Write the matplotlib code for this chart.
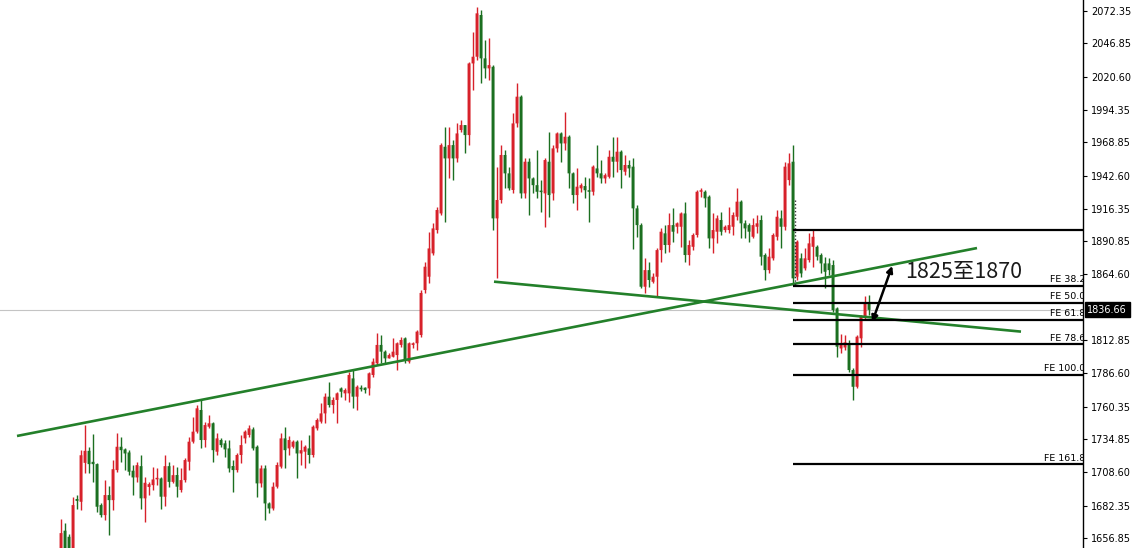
import matplotlib
matplotlib.use("Agg")
import matplotlib.pyplot as plt
import numpy as np

# ---------------- data ----------------
opens = [1642, 1662.5, 1657.7, 1646, 1687.5, 1685.3, 1716, 1725.5, 1716.8, 1715,
         1682.7, 1674.8, 1690.6, 1686.6, 1710.3, 1728.7, 1726.6, 1724.2, 1709.8, 1704.5,
         1713.4, 1688, 1697, 1698.4, 1703, 1703.7, 1689.3, 1713.4, 1701, 1706.4,
         1694.6, 1702.4, 1716.9, 1732.7, 1740.6, 1757.7, 1734, 1744.5, 1747.2, 1724.8,
         1734, 1731.4, 1727.4, 1713.5, 1710.3, 1722.2, 1735.3, 1738, 1742.4, 1728.7,
         1699.8, 1711.6, 1684, 1680, 1697.2, 1713, 1735.3, 1727.4, 1728.7, 1732.7,
         1723.4, 1724.8, 1727.4, 1722.2, 1743.2, 1748.5, 1755, 1768.2, 1761.6, 1765.6,
         1774.7, 1770.8, 1770.8, 1782.6, 1768.2, 1775.3, 1775.3, 1774.7, 1785.3, 1794.5,
         1809, 1803.7, 1798.4, 1799.7, 1801, 1809, 1814.2, 1795.8, 1809, 1810.3,
         1816.8, 1852.3, 1862.8, 1881.2, 1899.6, 1912.7, 1965.3, 1956.1, 1966.6, 1956.1,
         1978.5, 1982.4, 1974.5, 2031, 2036.3, 2069.2, 2035, 2027.1, 2028.4, 1908.8,
         1923.3, 1958.8, 1944.3, 1931.2, 1983.7, 2004.8, 1928.5, 1953.5, 1940.3, 1935,
         1930.5, 1928.5, 1953.5, 1928.5, 1964, 1975.8, 1967.9, 1973.2, 1944.3, 1927.2,
         1932.5, 1934.3, 1931, 1929.8, 1948.2, 1944.3, 1940.3, 1941.6, 1957.4, 1953.5,
         1961.4, 1945.6, 1950.9, 1949.6, 1916.7, 1903.5, 1854.9, 1868, 1858.8, 1862.8,
         1883.8, 1897, 1887.8, 1903.5, 1902.2, 1902.2, 1912.7, 1879.9, 1886.4, 1895.7,
         1929.8, 1929.8, 1925.9, 1893, 1898.3, 1907.5, 1899.6, 1899.6, 1902.2, 1910.1,
         1922, 1904.9, 1903.5, 1894.3, 1902.2, 1907.5, 1879.9, 1868, 1877.3, 1894.3,
         1908.8, 1902.2, 1939, 1953.5, 1862.8, 1877.3, 1869.4, 1875.9, 1886.4, 1886.4,
         1879.9, 1873.3, 1873.3, 1872, 1837.8, 1806.2, 1807, 1810.2, 1789.2, 1776,
         1814.2, 1831.3, 1841.7]
highs = [1672, 1668.5, 1660, 1689, 1690.5, 1726, 1745.8, 1728.7, 1739, 1716,
         1684, 1702.4, 1697.7, 1718.2, 1739.2, 1736.6, 1727.4, 1726, 1714.2, 1716.8,
         1722, 1705, 1701, 1713, 1711.6, 1705, 1722, 1716.8, 1714.2, 1713,
         1711.6, 1719.6, 1736.6, 1752.4, 1761.6, 1765.6, 1748.5, 1753.7, 1748.5, 1739.3,
         1735.3, 1734, 1734, 1718.2, 1723.5, 1738, 1741.9, 1745.8, 1744.5, 1730,
         1714.3, 1714.3, 1685.3, 1701.1, 1716.9, 1739.3, 1744.5, 1737, 1734, 1734,
         1734, 1730, 1737.9, 1745.8, 1751.1, 1763, 1770.8, 1780, 1768.2, 1772.1,
         1776, 1774.7, 1787.9, 1789.2, 1777.4, 1777.4, 1776, 1787.9, 1798.4, 1818.2,
         1816.8, 1805, 1802.4, 1814.2, 1811.6, 1815.5, 1815.5, 1811.6, 1811.6, 1820.8,
         1852, 1874.6, 1898.3, 1904.9, 1918, 1967.9, 1981.1, 1981.1, 1970.6, 1983.7,
         1986.4, 1982.4, 2032.4, 2056, 2075.7, 2073.1, 2049.5, 2050.8, 2029.7, 1949.6,
         1966.6, 1962.7, 1949.6, 1991.6, 2015.3, 2006.1, 1956.1, 1956.1, 1941.6, 1962.7,
         1939, 1956.1, 1977.1, 1966.6, 1977.1, 1977.1, 1992.9, 1974.5, 1945.6, 1948.2,
         1936.4, 1941.6, 1940.3, 1950.9, 1966.6, 1954.8, 1944.3, 1962.7, 1973.2, 1973.2,
         1962.7, 1958.8, 1954.8, 1956.1, 1919.3, 1904.9, 1877.3, 1874.6, 1865.4, 1885.1,
         1900.9, 1903.5, 1912.7, 1916.7, 1906.2, 1914, 1922, 1891.7, 1897, 1931.2,
         1932.5, 1931.2, 1927.2, 1912.7, 1911.4, 1914, 1903.5, 1918, 1914, 1932.5,
         1923.3, 1907.5, 1904.9, 1908.8, 1911.4, 1911.4, 1881.2, 1885.1, 1897, 1915.4,
         1915.4, 1953.5, 1960, 1966.7, 1891.7, 1881.2, 1885.1, 1897, 1899.6, 1887.8,
         1881.2, 1878.6, 1877.3, 1875.9, 1839.1, 1818, 1816.8, 1812.8, 1790.5, 1816.8,
         1832.6, 1847.5, 1848.3]
lows = [1636, 1640, 1640, 1643, 1680, 1678.7, 1707.7, 1707.7, 1701, 1677.4,
        1673.5, 1670.8, 1659, 1678.7, 1709, 1716.8, 1710.3, 1706.4, 1690.6, 1701,
        1680, 1669.5, 1690.6, 1694.5, 1698.4, 1680, 1681.9, 1697, 1699.8, 1689.3,
        1693.3, 1701.1, 1710.3, 1731.4, 1739.3, 1727.4, 1728.7, 1743.2, 1716.9, 1722.2,
        1728.7, 1720.9, 1709, 1693.3, 1709, 1715.6, 1731.4, 1736.6, 1726, 1689.3,
        1697.2, 1670.9, 1676.1, 1678.8, 1695.9, 1711.6, 1711.6, 1722, 1727.4, 1703.7,
        1714.3, 1711.6, 1715.6, 1720.9, 1742, 1747.2, 1747.2, 1760.3, 1755, 1747.2,
        1768.2, 1765.6, 1764.3, 1759, 1757.7, 1773, 1770.8, 1769.5, 1784, 1793.2,
        1794.5, 1794.5, 1798.4, 1799.7, 1789.2, 1807.6, 1794.5, 1794.5, 1806.3, 1805,
        1815.5, 1849.6, 1857.5, 1879.9, 1897, 1911.4, 1906.2, 1940.3, 1939, 1953.5,
        1977.1, 1960, 1966.6, 2010, 2033.7, 2015.3, 2019.2, 2017.9, 1899.6, 1861.5,
        1920.6, 1932.5, 1931, 1928.6, 1981, 1924.6, 1924.5, 1911.4, 1928.5, 1924.5,
        1914, 1902.2, 1910, 1923.3, 1961.4, 1953.5, 1962.7, 1932.5, 1920.6, 1915.3,
        1929.8, 1924.5, 1906.2, 1927.2, 1941.6, 1936.4, 1936.4, 1940.3, 1941.6, 1945.6,
        1932.5, 1942.9, 1941.6, 1885, 1894.3, 1853.6, 1849.6, 1854.9, 1857.5, 1847,
        1874.6, 1881.2, 1882.5, 1890.4, 1897, 1886.4, 1874.6, 1872, 1883.8, 1894.3,
        1925.9, 1918, 1885.1, 1881.2, 1889.1, 1895.7, 1898.3, 1897, 1895.7, 1907.5,
        1893, 1893, 1890.4, 1893, 1897, 1872, 1860.2, 1865.4, 1875.9, 1891.7,
        1885.1, 1899.6, 1935, 1856.2, 1860.2, 1862.8, 1868, 1874.6, 1870.7, 1876,
        1865.4, 1853.6, 1864.1, 1835.2, 1799.7, 1802.3, 1804.9, 1787.9, 1765.5, 1774.7,
        1807.6, 1828.6, 1832.6]
closes = [1660.6, 1645, 1646, 1682.7, 1686, 1722, 1725.5, 1715, 1715, 1681.4,
          1674.8, 1690.6, 1686.6, 1711, 1728.7, 1726, 1723.4, 1709, 1704.5, 1714.2,
          1688, 1700.3, 1699.2, 1702.9, 1703.5, 1689.3, 1713.4, 1701, 1706.3, 1697.2,
          1702.4, 1718.2, 1732.7, 1740.6, 1759, 1734, 1745.8, 1747.2, 1726, 1735.3,
          1730, 1726.6, 1711.6, 1710.3, 1722.2, 1730, 1740.6, 1743.2, 1727.4, 1699.8,
          1711.6, 1684, 1680, 1697.2, 1714.3, 1735.3, 1726, 1734, 1732.7, 1723.4,
          1726, 1728.7, 1722.2, 1744.5, 1749.8, 1755, 1768.2, 1761.6, 1765.6, 1770.8,
          1772.1, 1773.4, 1785.3, 1768.2, 1776, 1774, 1773.4, 1786.6, 1795.8, 1809,
          1803.7, 1798.4, 1801, 1803.7, 1810.3, 1812.9, 1797.1, 1810.3, 1810.3, 1819.5,
          1850, 1870.7, 1885.1, 1900.9, 1915.4, 1966.6, 1956.1, 1966.6, 1956.1, 1975.8,
          1982.4, 1974.5, 2031, 2036.3, 2070.5, 2035, 2027.1, 2029.7, 1908.8, 1923.3,
          1958.8, 1944.3, 1932.5, 1983.7, 2004.8, 1928.5, 1953.5, 1940.3, 1935, 1929.8,
          1929.5, 1954.8, 1927.2, 1964, 1975.8, 1967.9, 1973.2, 1944.3, 1927.2, 1933.8,
          1935, 1931, 1929.8, 1949.6, 1944.3, 1940.3, 1942.9, 1957.4, 1953.5, 1961.4,
          1946.9, 1950.9, 1948.2, 1916.7, 1903.5, 1854.9, 1868, 1860.2, 1862.8, 1883.8,
          1898.3, 1887.8, 1903.5, 1898.3, 1904.9, 1912.7, 1879.9, 1887.8, 1895.7, 1929.8,
          1930.8, 1924.6, 1893, 1899.6, 1908.8, 1898.3, 1902.2, 1903.5, 1911.4, 1922,
          1904.9, 1900.9, 1898.3, 1903.5, 1904.9, 1878.6, 1868, 1878.6, 1895.7, 1910.1,
          1902.2, 1949.6, 1952.2, 1861.5, 1890.4, 1865.4, 1877.3, 1889.1, 1894.3, 1878.6,
          1873.3, 1866.7, 1868, 1836.5, 1807.6, 1810.2, 1811, 1789.2, 1776, 1815.5,
          1831.3, 1841.8, 1836.66]

# right price axis
tick_values = [2072.35, 2046.85, 2020.60, 1994.35, 1968.85, 1942.60, 1916.35, 1890.85,
               1864.60, 1812.85, 1786.60, 1760.35, 1734.85, 1708.60, 1682.35, 1656.85]
tick_labels = ["2072.35", "2046.85", "2020.60", "1994.35", "1968.85", "1942.60", "1916.35",
               "1890.85", "1864.60", "1812.85", "1786.60", "1760.35", "1734.85", "1708.60",
               "1682.35", "1656.85"]
current_price = 1836.66

# Fibonacci expansion levels
fe_prices = [1899.6, 1855.5, 1842.1, 1828.7, 1809.7, 1785.3, 1715.0]
fe_labels = ["", "FE 38.2", "FE 50.0", "FE 61.8", "FE 78.6", "FE 100.0", "FE 161.8"]
fe_start_bar = 183

# trend lines (bar index, price)
rising_line = ([-11, 229], [1737.2, 1885.4])
falling_line = ([108.25, 240], [1858.9, 1819.5])
fe_anchor = ([183.6, 183.6], [1923.0, 1856.0])

# annotation arrow
arrow_from = (202.8, 1827.0)
arrow_to = (207.8, 1871.3)
note_text = "1825至1870"
note_pos = (211, 1866.5)

# ---------------- drawing ----------------
RED = "#d7212a"
GREEN = "#1b6f20"
LINE_GREEN = "#23802a"

fig = plt.figure(figsize=(11.32, 5.48), dpi=100)
ax = fig.add_axes([0, 0, 1083 / 1132, 1])

o = np.array(opens); h = np.array(highs); l = np.array(lows); c = np.array(closes)
idx = np.arange(len(o))
up = c >= o
cols = np.where(up, RED, GREEN)

ax.vlines(idx, l, h, colors=cols, linewidth=1.0, zorder=2)
bottoms = np.minimum(o, c)
heights = np.maximum(np.abs(c - o), 1.2)
bars = ax.bar(idx, heights, bottom=bottoms, width=0.72, color=cols, edgecolor="none",
              linewidth=0, zorder=3)
for b in bars:
    b.set_snap(False)

# current price line
ax.axhline(current_price, color="#c4c4c4", linewidth=0.8, zorder=1)

# trend lines
ax.plot(*rising_line, color=LINE_GREEN, linewidth=1.9, zorder=4, solid_capstyle="butt")
ax.plot(*falling_line, color=LINE_GREEN, linewidth=1.9, zorder=4, solid_capstyle="butt")
ax.plot(*fe_anchor, color="#333333", linewidth=1.0, linestyle=(0, (1, 1.5)), zorder=4)

xmin, xmax = -15.25, 255.5
# FE lines
for p, lab in zip(fe_prices, fe_labels):
    ax.plot([fe_start_bar, xmax], [p, p], color="black", linewidth=1.6, zorder=4,
            solid_capstyle="butt")
    if lab:
        ax.text(xmax + 0.6, p + 1.2, lab, ha="right", va="bottom", fontsize=6.8,
                family="DejaVu Sans", color="black", clip_on=True, zorder=5)

# arrow and note
ax.annotate("", xy=arrow_to, xytext=arrow_from,
            arrowprops=dict(arrowstyle="<|-|>", color="black", lw=1.8,
                            mutation_scale=9, shrinkA=0, shrinkB=0), zorder=6)
ax.text(note_pos[0], note_pos[1], note_text, ha="left", va="center", fontsize=15.5,
        family=["Noto Sans CJK SC", "DejaVu Sans"], color="#1a1a1a", zorder=6)

ax.set_xlim(xmin, xmax)
ax.set_ylim(1648.85, 2081.03)

# axes styling (MT4-like right price scale)
for s in ["left", "top", "bottom"]:
    ax.spines[s].set_visible(False)
ax.spines["right"].set_color("black")
ax.spines["right"].set_linewidth(1.0)
ax.set_xticks([])
ax.yaxis.tick_right()
ax.set_yticks(tick_values)
ax.set_yticklabels(tick_labels)
ax.tick_params(axis="y", length=3, width=0.8, pad=3, labelsize=7, colors="black")
for t in ax.get_yticklabels():
    t.set_family("DejaVu Sans")

# current price tag
ax.text(1.004, current_price, "1836.66", transform=ax.get_yaxis_transform(),
        ha="left", va="center", fontsize=7, color="white", family="DejaVu Sans",
        bbox=dict(boxstyle="square,pad=0.25", fc="black", ec="black"), clip_on=False,
        zorder=10)

fig.savefig("out.png", dpi=100)
